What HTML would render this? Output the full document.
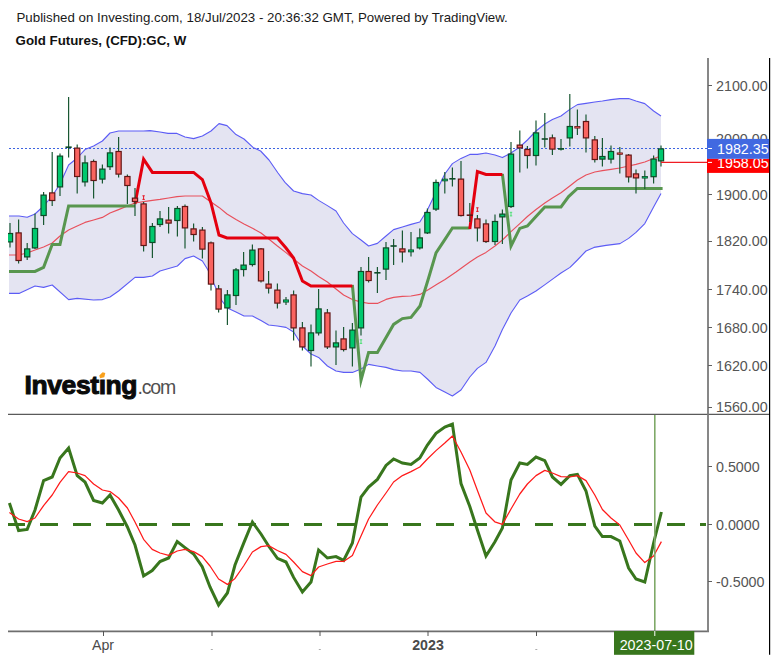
<!DOCTYPE html>
<html><head><meta charset="utf-8"><title>Gold Futures</title>
<style>
html,body{margin:0;padding:0;background:#fff;}
body{width:777px;height:660px;position:relative;overflow:hidden;font-family:"Liberation Sans",sans-serif;}
.t1{position:absolute;left:16.5px;top:9.6px;font-size:13.3px;line-height:16px;color:#1a1a1a;white-space:nowrap;}
.t2{position:absolute;left:15.6px;top:32.7px;font-size:13.3px;line-height:16px;font-weight:bold;color:#111;white-space:nowrap;}
</style></head><body>
<div class="t1">Published on Investing.com, 18/Jul/2023 - 20:36:32 GMT, Powered by TradingView.</div>
<div class="t2">Gold Futures, (CFD):GC, W</div>
<svg width="777" height="660" viewBox="0 0 777 660" style="position:absolute;left:0;top:0">
<polygon points="9,216 19,216 27.2,217.2 35,214 43.6,206 52.2,196 60,184 68.6,165 77.2,158 85,149.6 93.6,146 102.4,141 110,133 118.6,131 127.4,131 135,131 143.6,131 150,130.6 160,132 168,133.4 177,133.4 185,137 193.6,138.6 202.4,136 211,131 219,123.6 227,125.6 236,134.6 244,139 253,147.4 260.6,151 269,160 278,173 285,182.4 293.6,191 302.4,193.6 311,195 318.6,200.4 327.4,205.6 336,211 343.6,223 352.4,233.6 361,240 368.6,246 377.4,243.4 386,236 393.6,229.6 402.4,227 411,224.4 419.8,222 427.4,210 436,192 444.8,174 452.4,163.6 461,158.4 469.8,154.4 477.4,154.4 486,153 495,155 502.4,157.6 511,153 519.8,147 527.4,140 536,131 544.8,124 552.4,119.6 561,116 569.8,109.4 577.4,104.6 586,103.4 594.8,102 602.4,101 611,99.6 619.8,98.6 628.6,98.6 636,101 644.8,103.6 653.6,111 661,116 661,193.4 653.6,207 644.8,223.6 636,232.4 628.6,238.4 620,243.6 606,245.4 594,247.4 586,251 577.4,260 570,267.4 561,273 553.6,278.4 545,284.6 536,291 527.4,296 519.8,300 511,313 502.4,329.6 495,346 486,362.4 477.4,368.4 469.8,377 461,390 452.4,396 444.8,392 436,387.4 427.4,379 420,372.4 411,371 402.4,371 393.6,369.6 386,367.4 377.4,366 368.6,364.4 361,369 352.4,372.4 343.6,372.4 336,371 327.4,366 318.6,357.4 311,354 302.4,346 293.6,332 286,327.4 277.4,326 268.6,325 261,320.6 252.4,316 244,316 236,312 227.4,308 222,301 214,284 208,270 202.4,261 193.6,256 185,258.6 177.4,266 160,271 152.4,276 143.6,277.4 135,277.4 118.6,291 110,297 102.4,299.6 93.6,300 77.2,298.4 68.6,299.6 52.2,285 43.6,287.4 35,286 19,293.4 9,293.4" fill="#e4e4f2"/>
<line x1="9" y1="148.5" x2="708" y2="148.5" stroke="#3d63e0" stroke-width="1" stroke-dasharray="2 2"/>
<polyline points="9,216 19,216 27.2,217.2 35,214 43.6,206 52.2,196 60,184 68.6,165 77.2,158 85,149.6 93.6,146 102.4,141 110,133 118.6,131 127.4,131 135,131 143.6,131 150,130.6 160,132 168,133.4 177,133.4 185,137 193.6,138.6 202.4,136 211,131 219,123.6 227,125.6 236,134.6 244,139 253,147.4 260.6,151 269,160 278,173 285,182.4 293.6,191 302.4,193.6 311,195 318.6,200.4 327.4,205.6 336,211 343.6,223 352.4,233.6 361,240 368.6,246 377.4,243.4 386,236 393.6,229.6 402.4,227 411,224.4 419.8,222 427.4,210 436,192 444.8,174 452.4,163.6 461,158.4 469.8,154.4 477.4,154.4 486,153 495,155 502.4,157.6 511,153 519.8,147 527.4,140 536,131 544.8,124 552.4,119.6 561,116 569.8,109.4 577.4,104.6 586,103.4 594.8,102 602.4,101 611,99.6 619.8,98.6 628.6,98.6 636,101 644.8,103.6 653.6,111 661,116" fill="none" stroke="#5c5cf5" stroke-width="1.1" stroke-linejoin="round"/>
<polyline points="9,293.4 19,293.4 35,286 43.6,287.4 52.2,285 68.6,299.6 77.2,298.4 93.6,300 102.4,299.6 110,297 118.6,291 135,277.4 143.6,277.4 152.4,276 160,271 177.4,266 185,258.6 193.6,256 202.4,261 208,270 214,284 222,301 227.4,308 236,312 244,316 252.4,316 261,320.6 268.6,325 277.4,326 286,327.4 293.6,332 302.4,346 311,354 318.6,357.4 327.4,366 336,371 343.6,372.4 352.4,372.4 361,369 368.6,364.4 377.4,366 386,367.4 393.6,369.6 402.4,371 411,371 420,372.4 427.4,379 436,387.4 444.8,392 452.4,396 461,390 469.8,377 477.4,368.4 486,362.4 495,346 502.4,329.6 511,313 519.8,300 527.4,296 536,291 545,284.6 553.6,278.4 561,273 570,267.4 577.4,260 586,251 594,247.4 606,245.4 620,243.6 628.6,238.4 636,232.4 644.8,223.6 653.6,207 661,193.4" fill="none" stroke="#5c5cf5" stroke-width="1.1" stroke-linejoin="round"/>
<polyline points="9,255 18.6,255 27.2,253 35,250 43.6,247 52.2,243 60,236 68.6,230 77.2,226 85,222.4 93.6,220 102.4,217.4 110,213 118.6,209.6 127.4,206 135,203 143.6,201.6 152.4,200.4 160,199.4 168.6,198 177,196.6 185,196 202.4,196 211,202 219,207.4 227,214 236,219.6 244,224 253,228.6 261,233 270,240 277.4,246 286,252.6 293.6,259 302.4,266 311,271 318.6,276.5 327.4,282 336,289 343.6,295 352.4,299.6 361,302 368.6,303.4 377.4,303.4 386,299.4 393.6,297.4 402.4,296.4 411,296 420,294.4 428.6,289.4 437.4,284 445,279.4 456,272 469.8,262 477.4,257 486,252.4 495,246 502.4,240 511,231.6 519.8,223.6 527.4,216.5 536,209.5 544.8,203 552.4,198 561,192.8 569.8,186 577.4,180 586,175 594.8,172 602.4,170.6 611,169.4 619.8,168 628.6,166 636,164.4 644.8,162 653.6,158.5 661,156" fill="none" stroke="#e8505c" stroke-width="1.15" stroke-linejoin="round"/>
<polyline points="9,271.4 35,271.4 43.6,267.4 52.2,244.4 60,244.4 68.6,206 135,206" fill="none" stroke="#58964f" stroke-width="3.0" stroke-linejoin="miter" stroke-miterlimit="30"/>
<polyline points="352.4,285 361,380.4 368.6,352.4 377.4,352.4 393.6,324.4 402.4,318.6 411,317.4 420,306 428.6,278 436,253 444.8,239.6 452.4,228 469.8,228" fill="none" stroke="#58964f" stroke-width="3.0" stroke-linejoin="miter" stroke-miterlimit="30"/>
<polyline points="502.4,174 511,246 519.8,228.4 527.4,226 536,216.4 544.8,207 561,207 568.6,196.6 577.4,188.4 662.6,188.4" fill="none" stroke="#58964f" stroke-width="3.0" stroke-linejoin="miter" stroke-miterlimit="30"/>
<polyline points="135,204 143.6,159.2 152.4,172.4 193.6,172.4 202.4,179.6 211,203 219,235 227,238 277.4,238 286,248 293.6,258 302.4,281 311,286 352.4,286" fill="none" stroke="#e4000f" stroke-width="3.0" stroke-linejoin="miter" stroke-miterlimit="30"/>
<polyline points="469.8,229 477.4,171.6 486,174.4 502.4,174.4" fill="none" stroke="#e4000f" stroke-width="3.0" stroke-linejoin="miter" stroke-miterlimit="30"/>
<defs><clipPath id="cc"><rect x="8" y="58" width="700" height="356"/></clipPath></defs><g clip-path="url(#cc)">
<line x1="10" y1="223" x2="10" y2="247.6" stroke="#195833" stroke-width="1.2"/>
<rect x="7.4" y="233.5" width="5.2" height="8.4" fill="#00c86e" stroke="#0e4a27" stroke-width="1.2"/>
<line x1="18.6" y1="219.6" x2="18.6" y2="263.6" stroke="#195833" stroke-width="1.2"/>
<rect x="16" y="232.9" width="5.2" height="27.6" fill="#fa6460" stroke="#621616" stroke-width="1.2"/>
<line x1="27.2" y1="243" x2="27.2" y2="260" stroke="#195833" stroke-width="1.2"/>
<rect x="24.6" y="248.9" width="5.2" height="8" fill="#00c86e" stroke="#0e4a27" stroke-width="1.2"/>
<line x1="35" y1="213.6" x2="35" y2="249" stroke="#195833" stroke-width="1.2"/>
<rect x="32.4" y="228.5" width="5.2" height="19.4" fill="#00c86e" stroke="#0e4a27" stroke-width="1.2"/>
<line x1="43.6" y1="192" x2="43.6" y2="225" stroke="#195833" stroke-width="1.2"/>
<rect x="41" y="195.1" width="5.2" height="20.4" fill="#00c86e" stroke="#0e4a27" stroke-width="1.2"/>
<line x1="52.2" y1="152" x2="52.2" y2="206" stroke="#195833" stroke-width="1.2"/>
<rect x="49.6" y="192.9" width="5.2" height="7.6" fill="#fa6460" stroke="#621616" stroke-width="1.2"/>
<line x1="60" y1="153.6" x2="60" y2="196" stroke="#195833" stroke-width="1.2"/>
<rect x="57.4" y="156.1" width="5.2" height="30.8" fill="#00c86e" stroke="#0e4a27" stroke-width="1.2"/>
<line x1="68.6" y1="97" x2="68.6" y2="157.6" stroke="#195833" stroke-width="1.2"/>
<rect x="65.5" y="146.4" width="6.2" height="1.6" fill="#0e4a27"/>
<line x1="77.2" y1="144.4" x2="77.2" y2="193.6" stroke="#195833" stroke-width="1.2"/>
<rect x="74.6" y="148.1" width="5.2" height="28.4" fill="#fa6460" stroke="#621616" stroke-width="1.2"/>
<line x1="85" y1="155.6" x2="85" y2="186.4" stroke="#195833" stroke-width="1.2"/>
<rect x="82.4" y="162.9" width="5.2" height="19" fill="#00c86e" stroke="#0e4a27" stroke-width="1.2"/>
<line x1="93.6" y1="159.6" x2="93.6" y2="198.6" stroke="#195833" stroke-width="1.2"/>
<rect x="91" y="161.5" width="5.2" height="19" fill="#fa6460" stroke="#621616" stroke-width="1.2"/>
<line x1="102.4" y1="164.4" x2="102.4" y2="183.6" stroke="#195833" stroke-width="1.2"/>
<rect x="99.8" y="169.1" width="5.2" height="10" fill="#00c86e" stroke="#0e4a27" stroke-width="1.2"/>
<line x1="110" y1="147.6" x2="110" y2="170" stroke="#195833" stroke-width="1.2"/>
<rect x="107.4" y="152.9" width="5.2" height="13.8" fill="#00c86e" stroke="#0e4a27" stroke-width="1.2"/>
<line x1="118.6" y1="137" x2="118.6" y2="177.4" stroke="#195833" stroke-width="1.2"/>
<rect x="116" y="151.5" width="5.2" height="22.6" fill="#fa6460" stroke="#621616" stroke-width="1.2"/>
<line x1="127.4" y1="174.4" x2="127.4" y2="204" stroke="#195833" stroke-width="1.2"/>
<rect x="124.8" y="176.5" width="5.2" height="9" fill="#fa6460" stroke="#621616" stroke-width="1.2"/>
<line x1="135" y1="188" x2="135" y2="216" stroke="#195833" stroke-width="1.2"/>
<rect x="132.4" y="198.1" width="5.2" height="3.4" fill="#fa6460" stroke="#621616" stroke-width="1.2"/>
<line x1="143.6" y1="202" x2="143.6" y2="251.4" stroke="#195833" stroke-width="1.2"/>
<rect x="141" y="203.9" width="5.2" height="41.6" fill="#fa6460" stroke="#621616" stroke-width="1.2"/>
<line x1="152.4" y1="223" x2="152.4" y2="258" stroke="#195833" stroke-width="1.2"/>
<rect x="149.8" y="226.5" width="5.2" height="16" fill="#00c86e" stroke="#0e4a27" stroke-width="1.2"/>
<line x1="160" y1="211" x2="160" y2="227" stroke="#195833" stroke-width="1.2"/>
<rect x="157.4" y="218.9" width="5.2" height="5.6" fill="#00c86e" stroke="#0e4a27" stroke-width="1.2"/>
<line x1="168.6" y1="207" x2="168.6" y2="233.6" stroke="#195833" stroke-width="1.2"/>
<rect x="166" y="220.1" width="5.2" height="3" fill="#fa6460" stroke="#621616" stroke-width="1.2"/>
<line x1="177.4" y1="206" x2="177.4" y2="236.4" stroke="#195833" stroke-width="1.2"/>
<rect x="174.8" y="208.5" width="5.2" height="12" fill="#00c86e" stroke="#0e4a27" stroke-width="1.2"/>
<line x1="185" y1="204.4" x2="185" y2="248.6" stroke="#195833" stroke-width="1.2"/>
<rect x="182.4" y="206.5" width="5.2" height="21.4" fill="#fa6460" stroke="#621616" stroke-width="1.2"/>
<line x1="193.6" y1="223.4" x2="193.6" y2="241.4" stroke="#195833" stroke-width="1.2"/>
<rect x="191" y="228.9" width="5.2" height="5.6" fill="#fa6460" stroke="#621616" stroke-width="1.2"/>
<line x1="202.4" y1="227" x2="202.4" y2="258.6" stroke="#195833" stroke-width="1.2"/>
<rect x="199.8" y="230.1" width="5.2" height="19" fill="#fa6460" stroke="#621616" stroke-width="1.2"/>
<line x1="211" y1="241.6" x2="211" y2="290.4" stroke="#195833" stroke-width="1.2"/>
<rect x="208.4" y="242.9" width="5.2" height="41.2" fill="#fa6460" stroke="#621616" stroke-width="1.2"/>
<line x1="218.6" y1="285" x2="218.6" y2="312.4" stroke="#195833" stroke-width="1.2"/>
<rect x="216" y="288.9" width="5.2" height="20.2" fill="#fa6460" stroke="#621616" stroke-width="1.2"/>
<line x1="227.4" y1="290" x2="227.4" y2="325" stroke="#195833" stroke-width="1.2"/>
<rect x="224.8" y="294.9" width="5.2" height="13" fill="#00c86e" stroke="#0e4a27" stroke-width="1.2"/>
<line x1="236" y1="268" x2="236" y2="305" stroke="#195833" stroke-width="1.2"/>
<rect x="233.4" y="269.9" width="5.2" height="25.6" fill="#00c86e" stroke="#0e4a27" stroke-width="1.2"/>
<line x1="243.6" y1="252" x2="243.6" y2="276.4" stroke="#195833" stroke-width="1.2"/>
<rect x="241" y="265.1" width="5.2" height="4.4" fill="#00c86e" stroke="#0e4a27" stroke-width="1.2"/>
<line x1="252.4" y1="244.4" x2="252.4" y2="266.4" stroke="#195833" stroke-width="1.2"/>
<rect x="249.8" y="250.1" width="5.2" height="14.4" fill="#00c86e" stroke="#0e4a27" stroke-width="1.2"/>
<line x1="261" y1="248" x2="261" y2="282.4" stroke="#195833" stroke-width="1.2"/>
<rect x="258.4" y="248.9" width="5.2" height="32" fill="#fa6460" stroke="#621616" stroke-width="1.2"/>
<line x1="268.6" y1="271" x2="268.6" y2="293.6" stroke="#195833" stroke-width="1.2"/>
<rect x="266" y="284.1" width="5.2" height="4" fill="#fa6460" stroke="#621616" stroke-width="1.2"/>
<line x1="277.4" y1="283.6" x2="277.4" y2="308.6" stroke="#195833" stroke-width="1.2"/>
<rect x="274.8" y="290.1" width="5.2" height="13" fill="#fa6460" stroke="#621616" stroke-width="1.2"/>
<line x1="286" y1="297" x2="286" y2="305" stroke="#195833" stroke-width="1.2"/>
<rect x="283.4" y="299.9" width="5.2" height="2.2" fill="#00c86e" stroke="#0e4a27" stroke-width="0.8"/>
<line x1="293.6" y1="290.4" x2="293.6" y2="340.4" stroke="#195833" stroke-width="1.2"/>
<rect x="291" y="294.9" width="5.2" height="33" fill="#fa6460" stroke="#621616" stroke-width="1.2"/>
<line x1="302.4" y1="322" x2="302.4" y2="350.4" stroke="#195833" stroke-width="1.2"/>
<rect x="299.8" y="327.9" width="5.2" height="19" fill="#fa6460" stroke="#621616" stroke-width="1.2"/>
<line x1="311" y1="324.4" x2="311" y2="366.4" stroke="#195833" stroke-width="1.2"/>
<rect x="308.4" y="332.9" width="5.2" height="17.6" fill="#00c86e" stroke="#0e4a27" stroke-width="1.2"/>
<line x1="318.6" y1="289" x2="318.6" y2="335.4" stroke="#195833" stroke-width="1.2"/>
<rect x="316" y="308.9" width="5.2" height="24" fill="#00c86e" stroke="#0e4a27" stroke-width="1.2"/>
<line x1="327.4" y1="309" x2="327.4" y2="349" stroke="#195833" stroke-width="1.2"/>
<rect x="324.8" y="312.9" width="5.2" height="34" fill="#fa6460" stroke="#621616" stroke-width="1.2"/>
<line x1="336" y1="330.4" x2="336" y2="365" stroke="#195833" stroke-width="1.2"/>
<rect x="333.4" y="342.9" width="5.2" height="4" fill="#00c86e" stroke="#0e4a27" stroke-width="1.2"/>
<line x1="343.6" y1="327" x2="343.6" y2="351.4" stroke="#195833" stroke-width="1.2"/>
<rect x="341" y="338.9" width="5.2" height="10.6" fill="#fa6460" stroke="#621616" stroke-width="1.2"/>
<line x1="352.4" y1="323" x2="352.4" y2="366.4" stroke="#195833" stroke-width="1.2"/>
<rect x="349.8" y="330.1" width="5.2" height="17.8" fill="#00c86e" stroke="#0e4a27" stroke-width="1.2"/>
<line x1="361" y1="267" x2="361" y2="335.4" stroke="#195833" stroke-width="1.2"/>
<rect x="358.4" y="271.5" width="5.2" height="56.4" fill="#00c86e" stroke="#0e4a27" stroke-width="1.2"/>
<line x1="368.6" y1="257" x2="368.6" y2="282.4" stroke="#195833" stroke-width="1.2"/>
<rect x="366" y="271.5" width="5.2" height="9" fill="#fa6460" stroke="#621616" stroke-width="1.2"/>
<line x1="377.4" y1="267" x2="377.4" y2="293" stroke="#195833" stroke-width="1.2"/>
<rect x="374.3" y="272" width="6.2" height="1.6" fill="#0e4a27"/>
<line x1="386" y1="242" x2="386" y2="280" stroke="#195833" stroke-width="1.2"/>
<rect x="383.4" y="247.9" width="5.2" height="21.2" fill="#00c86e" stroke="#0e4a27" stroke-width="1.2"/>
<line x1="393.6" y1="239" x2="393.6" y2="265" stroke="#195833" stroke-width="1.2"/>
<rect x="390.5" y="245.2" width="6.2" height="1.6" fill="#0e4a27"/>
<line x1="402.4" y1="230.4" x2="402.4" y2="262.4" stroke="#195833" stroke-width="1.2"/>
<rect x="399.8" y="248.9" width="5.2" height="3" fill="#fa6460" stroke="#621616" stroke-width="1.2"/>
<line x1="411" y1="232" x2="411" y2="256.4" stroke="#195833" stroke-width="1.2"/>
<rect x="408.4" y="249.9" width="5.2" height="2" fill="#00c86e" stroke="#0e4a27" stroke-width="0.8"/>
<line x1="419.8" y1="228.4" x2="419.8" y2="249.4" stroke="#195833" stroke-width="1.2"/>
<rect x="417.2" y="237.9" width="5.2" height="10" fill="#00c86e" stroke="#0e4a27" stroke-width="1.2"/>
<line x1="427.4" y1="208.4" x2="427.4" y2="234" stroke="#195833" stroke-width="1.2"/>
<rect x="424.8" y="212.5" width="5.2" height="20.4" fill="#00c86e" stroke="#0e4a27" stroke-width="1.2"/>
<line x1="436" y1="179.4" x2="436" y2="211" stroke="#195833" stroke-width="1.2"/>
<rect x="433.4" y="182.5" width="5.2" height="26.6" fill="#00c86e" stroke="#0e4a27" stroke-width="1.2"/>
<line x1="444.8" y1="172" x2="444.8" y2="193.6" stroke="#195833" stroke-width="1.2"/>
<rect x="442.2" y="179.1" width="5.2" height="1.8" fill="#00c86e" stroke="#0e4a27" stroke-width="0.8"/>
<line x1="452.4" y1="167.4" x2="452.4" y2="186.4" stroke="#195833" stroke-width="1.2"/>
<rect x="449.3" y="178" width="6.2" height="1.6" fill="#0e4a27"/>
<line x1="461" y1="161" x2="461" y2="216.6" stroke="#195833" stroke-width="1.2"/>
<rect x="458.4" y="179.1" width="5.2" height="36.4" fill="#fa6460" stroke="#621616" stroke-width="1.2"/>
<line x1="469.8" y1="203" x2="469.8" y2="222" stroke="#195833" stroke-width="1.2"/>
<rect x="466.7" y="214.4" width="6.2" height="1.6" fill="#621616"/>
<line x1="477.4" y1="215" x2="477.4" y2="241.4" stroke="#195833" stroke-width="1.2"/>
<rect x="474.8" y="218.9" width="5.2" height="9" fill="#fa6460" stroke="#621616" stroke-width="1.2"/>
<line x1="486" y1="219.4" x2="486" y2="243" stroke="#195833" stroke-width="1.2"/>
<rect x="483.4" y="223.9" width="5.2" height="17.6" fill="#fa6460" stroke="#621616" stroke-width="1.2"/>
<line x1="495" y1="214.4" x2="495" y2="245" stroke="#195833" stroke-width="1.2"/>
<rect x="492.4" y="221.5" width="5.2" height="20" fill="#00c86e" stroke="#0e4a27" stroke-width="1.2"/>
<line x1="502.4" y1="209.4" x2="502.4" y2="244" stroke="#195833" stroke-width="1.2"/>
<rect x="499.8" y="214.1" width="5.2" height="2.8" fill="#00c86e" stroke="#0e4a27" stroke-width="1.2"/>
<line x1="511" y1="142" x2="511" y2="208" stroke="#195833" stroke-width="1.2"/>
<rect x="508.4" y="154.1" width="5.2" height="52.4" fill="#00c86e" stroke="#0e4a27" stroke-width="1.2"/>
<line x1="519.8" y1="130.6" x2="519.8" y2="172.6" stroke="#195833" stroke-width="1.2"/>
<rect x="517.2" y="145.1" width="5.2" height="2.8" fill="#fa6460" stroke="#621616" stroke-width="1.2"/>
<line x1="527.4" y1="146" x2="527.4" y2="168.6" stroke="#195833" stroke-width="1.2"/>
<rect x="524.8" y="149.5" width="5.2" height="6" fill="#fa6460" stroke="#621616" stroke-width="1.2"/>
<line x1="536" y1="120.6" x2="536" y2="165.4" stroke="#195833" stroke-width="1.2"/>
<rect x="533.4" y="132.9" width="5.2" height="22.6" fill="#00c86e" stroke="#0e4a27" stroke-width="1.2"/>
<line x1="544.8" y1="113" x2="544.8" y2="147.4" stroke="#195833" stroke-width="1.2"/>
<rect x="541.7" y="138.2" width="6.2" height="1.6" fill="#0e4a27"/>
<line x1="552.4" y1="134.4" x2="552.4" y2="155" stroke="#195833" stroke-width="1.2"/>
<rect x="549.8" y="137.9" width="5.2" height="11.2" fill="#fa6460" stroke="#621616" stroke-width="1.2"/>
<line x1="561" y1="139" x2="561" y2="150.4" stroke="#195833" stroke-width="1.2"/>
<rect x="558.4" y="148.5" width="5.2" height="0.8" fill="#00c86e" stroke="#0e4a27" stroke-width="0.8"/>
<line x1="569.8" y1="94" x2="569.8" y2="146.4" stroke="#195833" stroke-width="1.2"/>
<rect x="567.2" y="126.5" width="5.2" height="11.4" fill="#00c86e" stroke="#0e4a27" stroke-width="1.2"/>
<line x1="577.4" y1="109.4" x2="577.4" y2="135" stroke="#195833" stroke-width="1.2"/>
<rect x="574.8" y="126.5" width="5.2" height="1.6" fill="#fa6460" stroke="#621616" stroke-width="0.8"/>
<line x1="586" y1="114.4" x2="586" y2="152.6" stroke="#195833" stroke-width="1.2"/>
<rect x="583.4" y="121.5" width="5.2" height="16.4" fill="#fa6460" stroke="#621616" stroke-width="1.2"/>
<line x1="594.8" y1="136" x2="594.8" y2="162.6" stroke="#195833" stroke-width="1.2"/>
<rect x="592.2" y="139.9" width="5.2" height="19.6" fill="#fa6460" stroke="#621616" stroke-width="1.2"/>
<line x1="602.4" y1="138" x2="602.4" y2="166.4" stroke="#195833" stroke-width="1.2"/>
<rect x="599.8" y="156.5" width="5.2" height="2.6" fill="#00c86e" stroke="#0e4a27" stroke-width="1.2"/>
<line x1="611" y1="145.4" x2="611" y2="163.6" stroke="#195833" stroke-width="1.2"/>
<rect x="608.4" y="151.5" width="5.2" height="7.6" fill="#00c86e" stroke="#0e4a27" stroke-width="1.2"/>
<line x1="619.8" y1="147" x2="619.8" y2="173.6" stroke="#195833" stroke-width="1.2"/>
<rect x="617.2" y="152.9" width="5.2" height="1.4" fill="#fa6460" stroke="#621616" stroke-width="0.8"/>
<line x1="628.6" y1="154" x2="628.6" y2="182.4" stroke="#195833" stroke-width="1.2"/>
<rect x="626" y="155.1" width="5.2" height="21.8" fill="#fa6460" stroke="#621616" stroke-width="1.2"/>
<line x1="636" y1="169.4" x2="636" y2="193.6" stroke="#195833" stroke-width="1.2"/>
<rect x="633.4" y="173.9" width="5.2" height="4" fill="#fa6460" stroke="#621616" stroke-width="1.2"/>
<line x1="644.8" y1="170.6" x2="644.8" y2="189" stroke="#195833" stroke-width="1.2"/>
<rect x="642.2" y="176.5" width="5.2" height="1.6" fill="#00c86e" stroke="#0e4a27" stroke-width="0.8"/>
<line x1="653.6" y1="155.6" x2="653.6" y2="183.6" stroke="#195833" stroke-width="1.2"/>
<rect x="651" y="159.1" width="5.2" height="17.6" fill="#00c86e" stroke="#0e4a27" stroke-width="1.2"/>
<line x1="661" y1="145.6" x2="661" y2="166.4" stroke="#195833" stroke-width="1.2"/>
<rect x="658.4" y="148.9" width="5.2" height="12" fill="#00c86e" stroke="#0e4a27" stroke-width="1.2"/>
</g>
<path d="M142.4 195.8h2.4M142.4 199.4h2.4M143.6 195.8v3.6" stroke="#e6000f" stroke-width="0.9" fill="none"/>
<path d="M476.2 207.8h2.4M476.2 211.4h2.4M477.4 207.8v3.6" stroke="#e6000f" stroke-width="0.9" fill="none"/>
<path d="M359.8 339.8h2.4M359.8 343.4h2.4M361 339.8v3.6" stroke="#3fe06a" stroke-width="0.9" fill="none"/>
<path d="M509.8 212.3h2.4M509.8 215.9h2.4M511 212.3v3.6" stroke="#3fe06a" stroke-width="0.9" fill="none"/>
<line x1="661" y1="162.4" x2="708" y2="162.4" stroke="#f01c24" stroke-width="1.2"/>
<line x1="7" y1="524.4" x2="708" y2="524.4" stroke="#38761d" stroke-width="3.0" stroke-dasharray="18 15" clip-path="url(#cp)"/>
<defs><clipPath id="cp"><rect x="8" y="414" width="698" height="217"/></clipPath></defs>
<polyline points="9.4,503 18.6,530.6 27.2,529.4 35,510 43.6,480.6 52.2,477 60,458 68.6,448 77.2,475.6 85,482 93.6,500.4 102.4,503 110,495 118.6,510 127.4,527 135,545 143.6,576 152.2,570.6 160,561.6 168.6,558 177.2,541.6 185,547.6 193.6,554 202.2,566.6 210,587 218.6,605 227.4,593 235,565 243.6,543.4 252.4,522 261,534 268.6,546 277.4,558.4 286,562 293.6,577.4 302.4,592 311,582 318.6,550 327.4,558 336,556.6 343.6,560.4 352.4,543 361,497 368.6,487 377.4,479.4 386,465.4 393.6,459 402.4,463 411,464.4 419.8,458 427.4,445 436,433.4 444.8,427 452.4,424 461,483.5 469.8,506.5 477.4,530 486,556 494.8,542 502.4,528 511,480 519.8,463 527.4,464.4 536,457 544.8,460.6 552.4,477 561,484.4 569.8,475.6 577.4,474.4 586,491 594.8,526 602.4,536.6 611,536.6 619.8,541 628.6,568 636,579 644.8,582 653.6,543 661.4,512" fill="none" stroke="#38761d" stroke-width="3.0" stroke-linejoin="miter" stroke-miterlimit="30"/>
<polyline points="9.4,512.6 18.6,519 27.2,521.6 35,518 43.6,505.6 52.2,495 60,482.4 68.6,471.6 77.2,473 85,475.6 93.6,484 102.4,490 110,491.6 118.6,498 127.4,508 135,522 143.6,539.3 152.2,549.4 160,553 168.6,555.4 177.2,551 185,549.4 193.6,551.6 202.2,556.6 210,566 218.6,579 227.4,584.4 235,578.4 243.6,566 252.4,552 261,546.6 268.6,545.6 277.4,550.5 286,554.4 293.6,562 302.4,571.6 311,575.6 318.6,567 327.4,564 336,561.4 343.6,561.4 352.4,555.4 361,536 368.6,519 377.4,505 386,493 393.6,482 402.4,475.6 411,471.6 419.8,467 427.4,459 436,450.6 444.8,443 452.4,436 461,452 469.8,470 478,492 486,513 494.8,521.8 502.4,524.4 511,509 519.8,494 527.4,484 536,475.6 544.8,470.4 552.4,473 561,476.6 569.8,477 577.4,475.6 586,480.6 594.8,495 602.4,509.5 611,518 619.8,525 628.6,540 636,553 644.8,562.6 653.6,556 661.4,541.6" fill="none" stroke="#ff1a1a" stroke-width="1.25" stroke-linejoin="round"/>
<line x1="654.8" y1="414" x2="654.8" y2="632" stroke="#7fa968" stroke-width="1.6"/>
<line x1="8" y1="414.4" x2="770" y2="414.4" stroke="#5a5a5a" stroke-width="1.1"/>
<line x1="8" y1="631.4" x2="709" y2="631.4" stroke="#6e6e6e" stroke-width="1.6"/>
<line x1="708" y1="58" x2="708" y2="632" stroke="#7a7a7a" stroke-width="1.8"/>
<line x1="769.6" y1="58" x2="769.6" y2="654.8" stroke="#000" stroke-width="1.2"/>
<line x1="708" y1="85.5" x2="712" y2="85.5" stroke="#606060" stroke-width="1"/>
<text x="716" y="91.2" font-size="14.3" fill="#555" font-family="Liberation Sans, sans-serif">2100.00</text>
<text x="716" y="144.2" font-size="14.3" fill="#555" font-family="Liberation Sans, sans-serif">2000.00</text>
<line x1="708" y1="194.5" x2="712" y2="194.5" stroke="#606060" stroke-width="1"/>
<text x="716" y="199.9" font-size="14.3" fill="#555" font-family="Liberation Sans, sans-serif">1900.00</text>
<line x1="708" y1="241.5" x2="712" y2="241.5" stroke="#606060" stroke-width="1"/>
<text x="716" y="246.4" font-size="14.3" fill="#555" font-family="Liberation Sans, sans-serif">1820.00</text>
<line x1="708" y1="289.5" x2="712" y2="289.5" stroke="#606060" stroke-width="1"/>
<text x="716" y="295.2" font-size="14.3" fill="#555" font-family="Liberation Sans, sans-serif">1740.00</text>
<line x1="708" y1="327.5" x2="712" y2="327.5" stroke="#606060" stroke-width="1"/>
<text x="716" y="332.7" font-size="14.3" fill="#555" font-family="Liberation Sans, sans-serif">1680.00</text>
<line x1="708" y1="365.5" x2="712" y2="365.5" stroke="#606060" stroke-width="1"/>
<text x="716" y="371.3" font-size="14.3" fill="#555" font-family="Liberation Sans, sans-serif">1620.00</text>
<line x1="708" y1="407.5" x2="712" y2="407.5" stroke="#606060" stroke-width="1"/>
<text x="716" y="412.4" font-size="14.3" fill="#555" font-family="Liberation Sans, sans-serif">1560.00</text>
<line x1="708" y1="466.5" x2="712" y2="466.5" stroke="#606060" stroke-width="1"/>
<text x="716" y="471.6" font-size="14.3" fill="#555" font-family="Liberation Sans, sans-serif">0.5000</text>
<line x1="708" y1="524.5" x2="712" y2="524.5" stroke="#606060" stroke-width="1"/>
<text x="716" y="529.8" font-size="14.3" fill="#555" font-family="Liberation Sans, sans-serif">0.0000</text>
<line x1="708" y1="581.5" x2="712" y2="581.5" stroke="#606060" stroke-width="1"/>
<text x="716" y="586.7" font-size="14.3" fill="#555" font-family="Liberation Sans, sans-serif">-0.5000</text>
<rect x="707" y="158.6" width="62.2" height="14.3" fill="#ff0000"/>
<text x="717" y="168.3" font-size="14.3" fill="#fff" font-family="Liberation Sans, sans-serif">1958.05</text>
<rect x="707" y="138.9" width="62.2" height="19.9" fill="#4169e1"/>
<line x1="708" y1="148.5" x2="712" y2="148.5" stroke="#fff" stroke-width="1"/>
<line x1="708" y1="162.4" x2="712" y2="162.4" stroke="#fff" stroke-width="1"/>
<text x="717" y="154.2" font-size="14.3" fill="#fff" font-family="Liberation Sans, sans-serif">1982.35</text>
<line x1="103.5" y1="631" x2="103.5" y2="636" stroke="#555" stroke-width="1"/>
<line x1="212" y1="631" x2="212" y2="636" stroke="#555" stroke-width="1"/>
<line x1="320" y1="631" x2="320" y2="636" stroke="#555" stroke-width="1"/>
<line x1="428" y1="631" x2="428" y2="636" stroke="#555" stroke-width="1"/>
<line x1="536.5" y1="631" x2="536.5" y2="636" stroke="#555" stroke-width="1"/>
<rect x="210.8" y="649" width="2" height="0.8" fill="#999"/>
<rect x="318.8" y="649" width="2" height="0.8" fill="#999"/>
<rect x="535.3" y="649" width="2" height="0.8" fill="#999"/>
<text x="103" y="650.1" font-size="14.2" fill="#4a4a4a" text-anchor="middle" font-family="Liberation Sans, sans-serif">Apr</text>
<text x="428" y="650" font-size="14.2" font-weight="bold" fill="#4a4a4a" text-anchor="middle" font-family="Liberation Sans, sans-serif">2023</text>
<rect x="614" y="631" width="80.3" height="23.8" fill="#38761d"/>
<line x1="654.8" y1="631" x2="654.8" y2="636" stroke="#fff" stroke-width="1"/>
<text x="656.2" y="650.1" font-size="14.3" fill="#fff" text-anchor="middle" font-family="Liberation Sans, sans-serif">2023-07-10</text>
<text x="24.6" y="393.8" font-size="26.5" font-weight="bold" fill="#0a0a0a" stroke="#0a0a0a" stroke-width="1.0" letter-spacing="-0.42" font-family="Liberation Sans, sans-serif">Invest&#305;ng</text>
<path d="M99.3 375.6 L102.6 372.3 L105.3 373 L104.3 377.3 L100 378.2 Z" fill="#f9a01b"/>
<text x="137.4" y="393.8" font-size="19.5" fill="#505050" letter-spacing="-1.1" font-family="Liberation Sans, sans-serif">.com</text>
</svg>
</body></html>
